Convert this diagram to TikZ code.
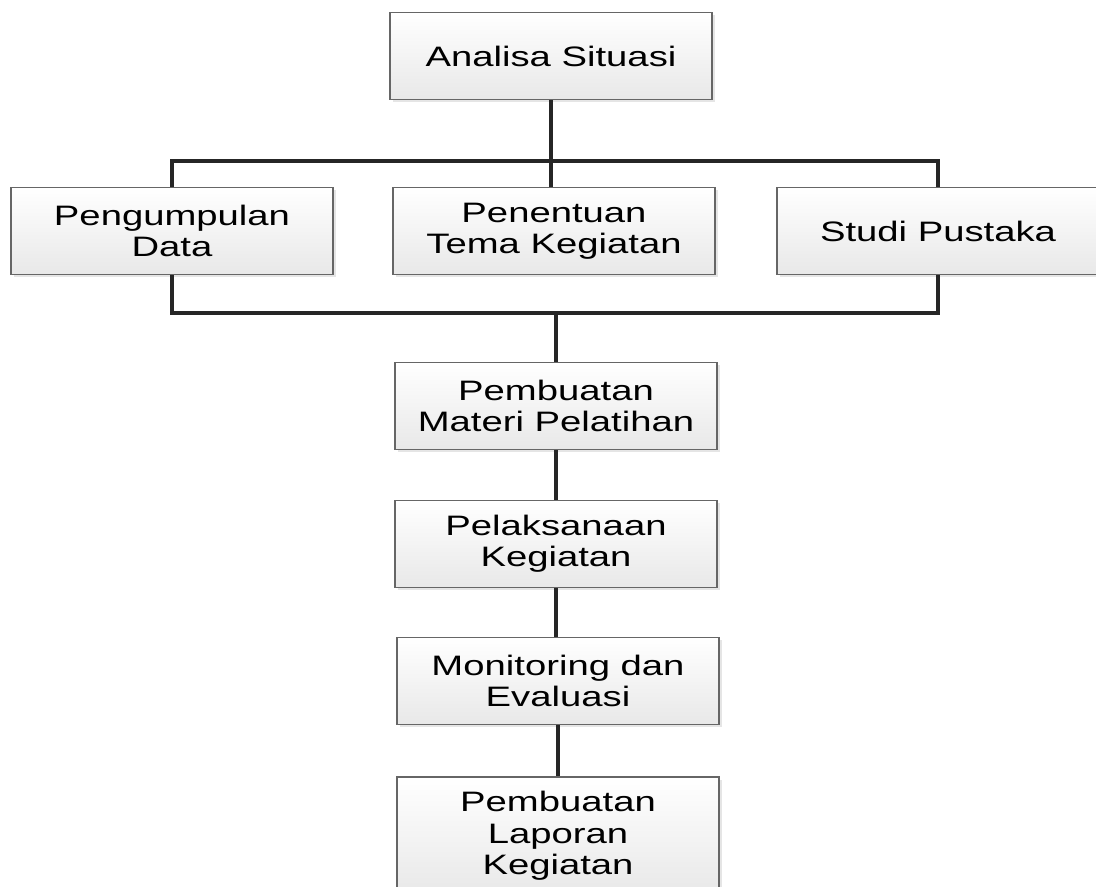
\documentclass[tikz,border=0pt]{standalone}
\usepackage{fontspec}
\setmainfont[FakeStretch=1.36]{Liberation Sans}
\usetikzlibrary{shadows}

\begin{document}
\begin{tikzpicture}[x=0.025cm, y=-0.025cm,
	kotak/.style = {rectangle, minimum width=8.05cm, minimum height=2.175cm, inner sep=0pt, align=center, draw=black!60, line width=1.2pt, top color=white, bottom color=black!9, drop shadow={shadow xshift=2pt, shadow yshift=-2pt, opacity=0.25, fill=black!40}, font=\fontsize{20}{22.3}\selectfont},
	garis/.style = {draw=black!85, line width=2.2pt}]
	\useasboundingbox (0,0) rectangle (1096,886);
	\coordinate (atas) at (552,161);
	\coordinate (bawah) at (556,313);
	\node (analisa) [kotak] at (551,56) {Analisa Situasi};
	\node (kumpul) [kotak] at (172,231) {Pengumpulan\\Data};
	\node (tema) [kotak] at (554,231) {Penentuan\\Tema Kegiatan};
	\node (pustaka) [kotak] at (938,231) {Studi Pustaka};
	\node (materi) [kotak] at (556,406) {Pembuatan\\Materi Pelatihan};
	\node (laksana) [kotak] at (556,544) {Pelaksanaan\\Kegiatan};
	\node (monev) [kotak] at (558,681) {Monitoring dan\\Evaluasi};
	\node (laporan) [kotak, minimum height=2.95cm] at (558,836) {Pembuatan\\Laporan\\Kegiatan};
	% penghubung
	\draw [garis] (analisa.south) -- (analisa.south |- tema.north);
	\draw [garis] (kumpul.north) |- (atas) -| (pustaka.north);
	\draw [garis] (kumpul.south) |- (bawah) -| (pustaka.south);
	\draw [garis] (bawah) -- (bawah |- materi.north);
	\draw [garis] (materi.south) -- (materi.south |- laksana.north);
	\draw [garis] (laksana.south) -- (laksana.south |- monev.north);
	\draw [garis] (monev.south) -- (monev.south |- laporan.north);
\end{tikzpicture}
\end{document}
